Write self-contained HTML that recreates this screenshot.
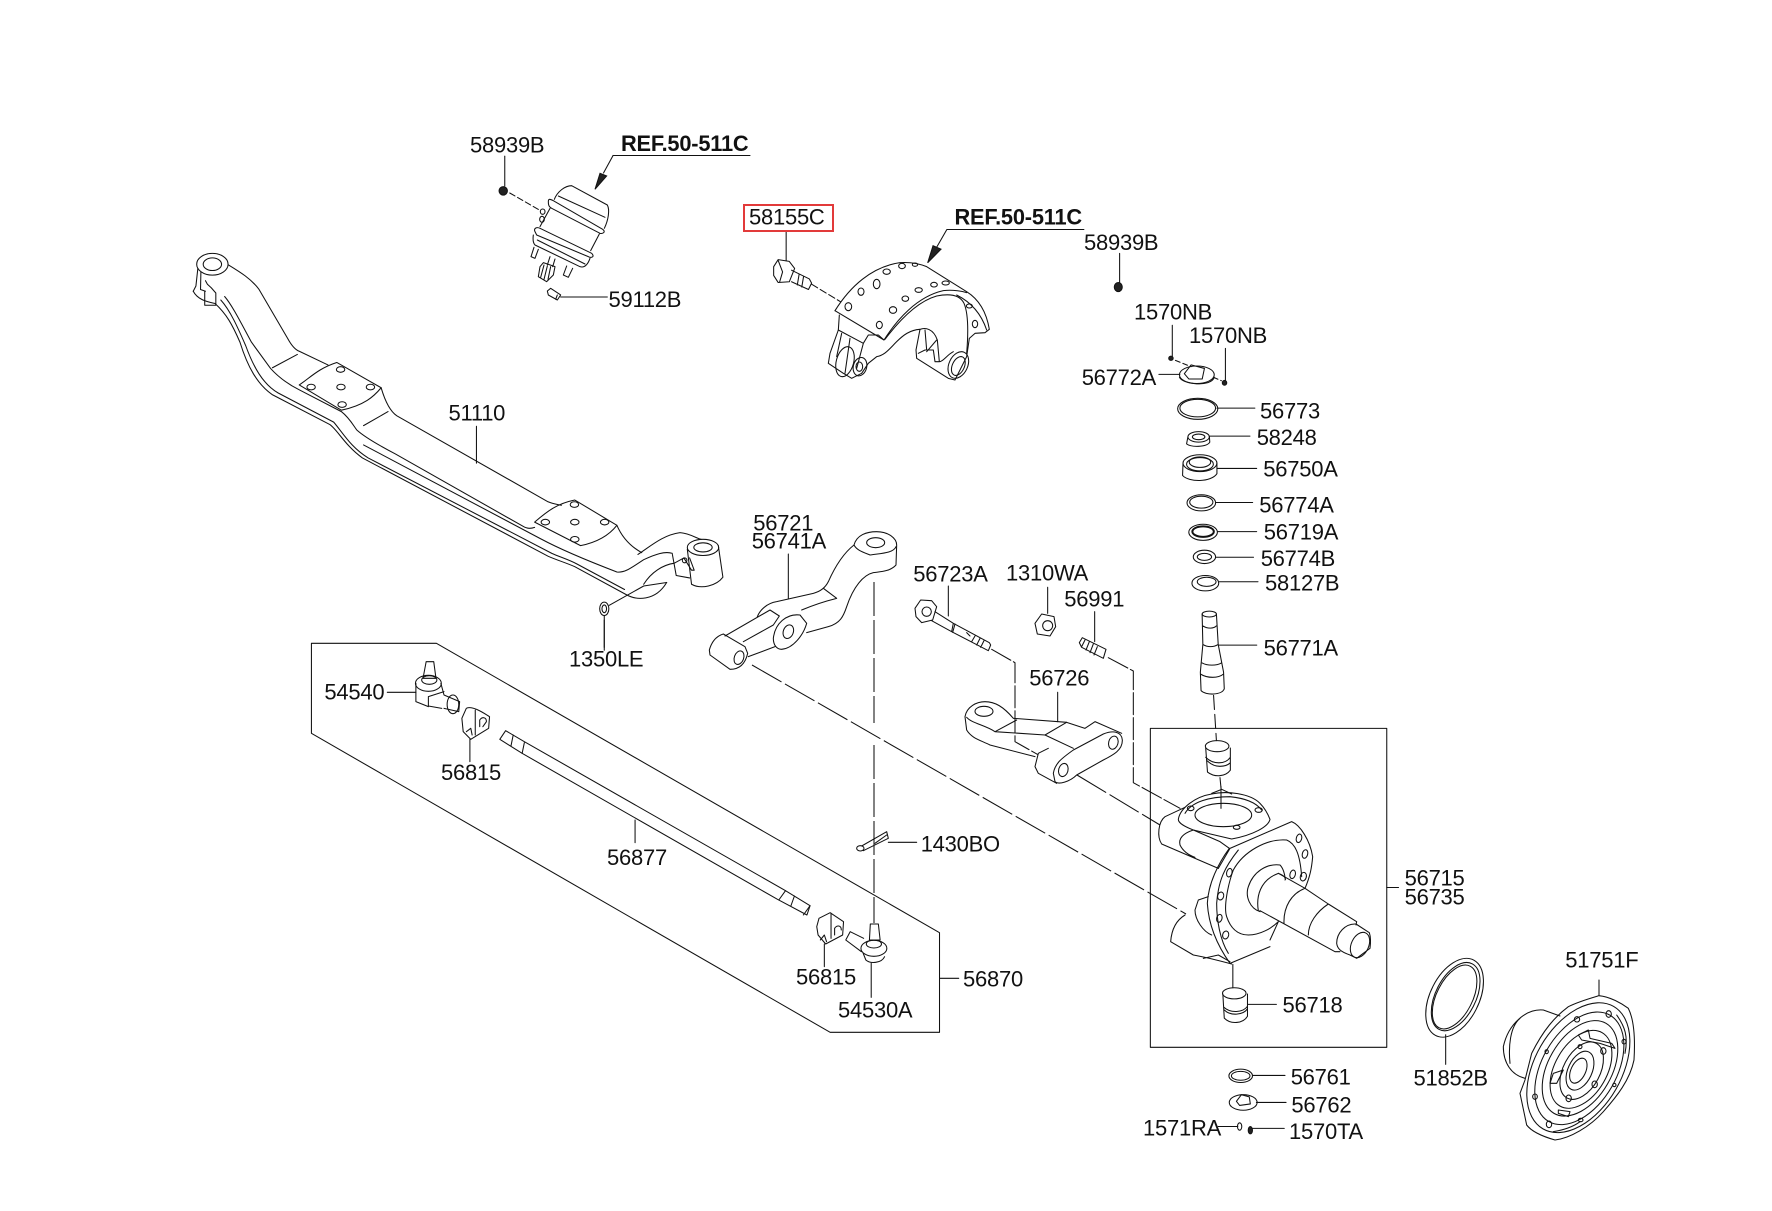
<!DOCTYPE html>
<html><head><meta charset="utf-8"><title>Front axle parts diagram</title>
<style>
html,body{margin:0;padding:0;background:#fff}
svg{display:block}
svg *{vector-effect:non-scaling-stroke}
.l{fill:none;stroke:#111;stroke-width:1.05;stroke-linejoin:round;stroke-linecap:round}
.d{fill:none;stroke:#111;stroke-width:1.05;stroke-dasharray:34 4}
.k{fill:#222;stroke:#111;stroke-width:1}
text{font-family:"Liberation Sans",sans-serif;font-size:22px;letter-spacing:-.25px;fill:#111}
.b{font-weight:bold;font-size:21.8px;letter-spacing:-.2px}
</style></head><body>
<svg width="1772" height="1211" viewBox="0 0 1772 1211" xmlns="http://www.w3.org/2000/svg">
<rect width="1772" height="1211" fill="#fff"/>

<!-- long dashed connectors -->
<path class="d" d="M874 582V723M874 745V923M752 665L1186 914M1077 775L1160 825"/>

<!-- axle -->
<g transform="translate(150,100) scale(.3827,.3509)">
 <path class="l" d="M205 470C235 490 265 510 285 540L360 680C370 700 380 712 390 716L465 755"/>
 <path class="l" d="M604 820C612 850 625 885 645 900L1040 1145C1055 1152 1065 1152 1075 1155M1220 1212C1235 1250 1260 1275 1285 1290"/>
 <path class="l" d="M390 812C420 790 440 765 488 748L604 820C585 845 560 870 500 884Z"/>
 <path class="l" d="M1005 1203C1040 1170 1065 1150 1110 1140L1220 1212C1200 1240 1170 1260 1125 1270Z"/>
 <g class="l">
  <ellipse cx="498" cy="768" rx="11" ry="8"/><ellipse cx="421" cy="818" rx="11" ry="8"/><ellipse cx="499" cy="818" rx="11" ry="8"/><ellipse cx="576" cy="818" rx="11" ry="8"/><ellipse cx="502" cy="868" rx="11" ry="8"/>
  <ellipse cx="1109" cy="1153" rx="11" ry="8"/><ellipse cx="1033" cy="1203" rx="11" ry="8"/><ellipse cx="1110" cy="1203" rx="11" ry="8"/><ellipse cx="1188" cy="1203" rx="11" ry="8"/><ellipse cx="1110" cy="1252" rx="11" ry="8"/>
  <ellipse cx="163" cy="468" rx="41" ry="31"/><ellipse cx="163" cy="468" rx="24" ry="18"/>
  <ellipse cx="1445" cy="1275" rx="41" ry="23"/><ellipse cx="1445" cy="1275" rx="24" ry="13"/>
 </g>
 <path class="l" d="M320 763L385 725M558 928L622 888M853 930V1035"/>
 <path class="l" d="M195 560C215 585 240 640 265 690L315 765C340 795 370 815 390 826L500 888C520 905 530 925 540 940C560 960 600 985 640 1008L975 1215C985 1222 995 1222 1005 1218"/>
 <path class="l" d="M558 983L1020 1250C1080 1285 1160 1320 1220 1345C1240 1348 1255 1335 1290 1310C1320 1295 1345 1285 1365 1292"/>
 <path class="l" d="M113 545C125 570 150 575 170 580C200 610 215 640 235 690C255 760 280 810 320 840L470 925C490 940 510 985 555 1020L1040 1300C1060 1310 1090 1320 1110 1330L1245 1410C1270 1425 1320 1430 1350 1375"/>
 <path class="l" d="M185 570C210 600 230 650 250 700C270 760 295 810 335 835L480 918C505 950 525 990 570 1020L1050 1292C1070 1302 1095 1310 1115 1322L1240 1395"/>
 <path class="l" d="M125 480L120 530L113 545M133 490L132 540L145 545M143 545V585H172V550L160 535L150 525L145 515"/>
 <path class="l" d="M1275 1295C1310 1270 1340 1240 1385 1233C1410 1235 1430 1250 1440 1252"/>
 <path class="l" d="M1404 1280L1415 1380C1440 1395 1480 1385 1497 1360L1485 1270M1365 1295L1375 1355L1410 1362M1290 1380C1310 1345 1340 1325 1370 1320L1395 1305L1415 1340H1422L1410 1305M1350 1375L1290 1385L1200 1440"/>
 <ellipse class="l" cx="1397" cy="1312" rx="6" ry="7"/>
 <ellipse class="l" cx="1187" cy="1450" rx="12" ry="19"/><ellipse class="l" cx="1187" cy="1450" rx="6" ry="11"/>
 <path class="l" d="M1187 1470V1568"/>
 <path class="l" d="M927 160V245"/>
 <ellipse class="k" cx="923" cy="259" rx="11" ry="12"/>
 <path class="l" stroke-dasharray="6 3" d="M940 265L1020 315"/>
 <path class="l" d="M1210 158L1185 208"/>
</g>
<path class="l" d="M613 155.5H750"/>

<!-- actuator -->
<g transform="translate(520,160) scale(.33333)">
 <path class="l" d="M103 118C112 95 135 77 155 77L262 135C270 150 265 180 253 205"/>
 <path class="l" d="M85 125C85 115 90 117 100 122L248 208C258 215 250 222 240 220L95 145C85 140 85 132 85 125Z"/>
 <path class="l" d="M115 108L255 172M90 145L60 200M238 222L212 272"/>
 <path class="l" d="M45 215C40 205 50 200 60 205L215 280C225 290 215 295 205 290L50 225ZM40 225C38 240 40 250 45 255L180 320C195 325 205 310 210 295M52 240L195 312"/>
 <path class="l" d="M42 262L33 290L45 295L55 268M140 318L130 345L145 352L158 325M90 290L82 315M105 297L98 320"/>
 <path class="l" d="M60 320L70 308L105 320L100 345L80 365L55 350ZM72 315L62 352M82 318L72 358M92 320L84 358"/>
 <ellipse class="l" cx="68" cy="155" rx="7" ry="8"/><ellipse class="l" cx="66" cy="178" rx="7" ry="9"/>
 <path class="l" d="M82 393L92 385L122 405L112 420L85 405ZM112 405L107 418M122 411H262"/>
 <path class="k" d="M225 88L240 40L260 48Z"/>
</g>

<!-- Z2: bolt, arrow, right column -->
<g transform="translate(700,100) scale(.4464,.3509)">
 <path class="l" d="M193 372V458"/>
 <path class="l" d="M165 475L175 455L200 460L212 480L200 518L175 520L165 500ZM175 457L185 490L178 520"/>
 <path class="l" d="M205 485L245 510L250 522L243 540L205 518M222 497L218 527M232 503L228 533"/>
 <path class="l" d="M250 525L315 575" stroke-dasharray="7 3"/>
 <path class="l" d="M860 369H553L530 420"/>
 <path class="k" d="M510 464L522 415L540 425Z"/>
 <path class="l" d="M940 437V522"/><ellipse class="k" cx="937" cy="533" rx="9" ry="13"/>
 <path class="l" d="M1058 642V730M1177 708V800M1028 782H1075"/>
 <ellipse class="k" cx="1055" cy="736" rx="5" ry="6"/><ellipse class="k" cx="1175" cy="806" rx="5" ry="7"/>
 <path class="l" stroke-dasharray="5 3" d="M1065 742L1100 760M1150 790L1168 800"/>
 <ellipse class="l" cx="1113" cy="783" rx="39" ry="25"/>
 <path class="l" d="M1074 790C1080 810 1145 820 1152 790M1085 780L1100 755L1130 765L1125 795L1095 795Z"/>
 <g class="l">
  <ellipse cx="1115" cy="880" rx="45" ry="30"/><ellipse cx="1115" cy="878" rx="40" ry="25"/>
  <ellipse cx="1117" cy="960" rx="24" ry="15"/><ellipse cx="1117" cy="960" rx="14" ry="8"/>
  <path d="M1093 960L1090 980C1100 990 1135 990 1142 975L1141 958M1158 878H1243M1143 958H1232M1158 1050H1247M1155 1147H1238M1160 1230H1247M1155 1303H1240M1163 1373H1250"/>
  <ellipse cx="1120" cy="1035" rx="38" ry="24"/><ellipse cx="1120" cy="1032" rx="24" ry="15"/><ellipse cx="1120" cy="1038" rx="30" ry="19"/>
  <path d="M1082 1035L1081 1070C1095 1090 1145 1090 1158 1065L1158 1035"/>
  <ellipse cx="1123" cy="1148" rx="32" ry="23"/><ellipse cx="1123" cy="1146" rx="26" ry="17"/>
  <ellipse cx="1127" cy="1232" rx="32" ry="23"/><ellipse cx="1127" cy="1230" rx="24" ry="15" stroke-width="2"/>
  <ellipse cx="1130" cy="1302" rx="25" ry="19"/><ellipse cx="1130" cy="1302" rx="16" ry="10"/>
  <ellipse cx="1132" cy="1377" rx="30" ry="22"/><ellipse cx="1135" cy="1373" rx="21" ry="13"/>
 </g>
</g>
<rect x="744" y="205" width="89" height="26" fill="none" stroke="#e23a3a" stroke-width="2"/>

<!-- brake shoe -->
<g transform="translate(810,250) scale(.33333)">
 <path class="l" d="M75 182C120 110 185 50 270 38C300 36 330 42 350 50L470 125C510 150 530 190 538 238L525 248L495 250L478 265L470 320L435 390L415 385L320 325L318 300L330 238C300 240 280 255 260 275C235 300 225 315 200 320L175 340L155 370L125 385L100 370L55 340L60 310L85 240L88 195"/>
 <path class="l" d="M75 182L222 270C260 210 320 140 400 122C430 118 460 125 470 128M225 268C265 215 320 155 380 138C420 130 450 135 462 160C475 190 475 250 470 310M440 135C470 150 510 180 530 240"/>
 <path class="l" d="M85 240L160 280L175 255L205 255L222 270M160 280L140 355M95 250L80 320M120 265L105 370"/>
 <path class="l" d="M345 240L350 300M330 238C345 232 370 235 382 270L388 335L375 335L370 300L345 300L325 310M388 335C400 335 410 315 430 305M380 270L350 305"/>
 <g class="l">
  <ellipse cx="115" cy="170" rx="10" ry="12"/><ellipse cx="153" cy="125" rx="9" ry="11"/><ellipse cx="200" cy="102" rx="10" ry="14"/><ellipse cx="230" cy="65" rx="11" ry="8"/><ellipse cx="276" cy="48" rx="10" ry="8"/><ellipse cx="315" cy="44" rx="8" ry="5"/><ellipse cx="208" cy="225" rx="9" ry="11"/><ellipse cx="249" cy="180" rx="11" ry="10"/><ellipse cx="286" cy="146" rx="10" ry="8"/><ellipse cx="326" cy="120" rx="11" ry="7"/><ellipse cx="372" cy="104" rx="10" ry="7"/><ellipse cx="407" cy="99" rx="11" ry="6"/><ellipse cx="478" cy="168" rx="9" ry="6"/><ellipse cx="495" cy="222" rx="8" ry="11"/>
  <ellipse cx="105" cy="335" rx="26" ry="46" transform="rotate(15 105 335)"/>
  <ellipse cx="150" cy="350" rx="20" ry="28" transform="rotate(15 150 350)"/><ellipse cx="148" cy="350" rx="10" ry="14"/>
  <ellipse cx="445" cy="345" rx="28" ry="42" transform="rotate(25 445 345)"/><ellipse cx="445" cy="348" rx="18" ry="30" transform="rotate(25 445 348)"/>
 </g>
</g>

<!-- arms -->
<g transform="translate(680,510) scale(.33333)">
 <path class="l" d="M325 132V265"/>
 <path class="l" d="M522 105C530 75 560 65 590 65C625 65 650 85 650 105L648 165C630 185 600 185 580 188C550 195 520 230 500 290C490 320 480 340 445 350L380 368"/>
 <ellipse class="l" cx="587" cy="98" rx="27" ry="15"/>
 <path class="l" d="M648 110C640 130 600 130 570 135C545 125 530 120 522 105C490 130 465 170 445 215C435 235 420 245 400 250L290 275C260 280 240 300 232 320M430 235L470 265M470 265C430 275 400 285 365 300"/>
 <path class="l" d="M280 385C285 340 320 310 360 315L380 340C370 375 340 415 305 418C290 418 280 405 280 385Z"/>
 <ellipse class="l" cx="325" cy="365" rx="15" ry="21" transform="rotate(20 325 365)"/>
 <path class="l" d="M280 345L298 318L270 300L135 378M205 440L285 410M190 395L280 345"/>
 <path class="l" d="M88 420C95 395 110 378 130 372L195 410L203 430C195 465 175 478 150 478L90 435Z"/>
 <ellipse class="l" cx="177" cy="443" rx="14" ry="21" transform="rotate(20 177 443)"/>
 <path class="l" d="M805 228V318"/>
 <path class="l" d="M705 295L722 270L755 272L770 290L758 330L725 338L708 320Z"/>
 <circle class="l" cx="740" cy="305" r="14"/>
 <path class="l" d="M765 305L820 340L928 398L932 405L925 422L815 365L755 332M820 340L815 365M860 368L870 378M885 378L875 395M900 385L890 405M912 392L902 412"/>
 <path class="l" stroke-width="2" d="M825 342L818 367"/>
 <path class="l" stroke-dasharray="22 3" d="M935 418L1005 458V695L1072 733"/>
 <path class="l" d="M1103 232V310"/>
 <path class="l" d="M1065 340L1085 312L1122 320L1127 350L1110 378L1072 372Z"/><circle class="l" cx="1103" cy="347" r="15"/>
 <path class="l" d="M1244 305V395M1198 398L1207 383L1278 418L1270 445L1205 412Z"/>
 <path class="l" d="M1215 390L1205 410M1228 395L1218 420M1240 402L1230 428M1252 410L1242 435"/>
 <path class="l" stroke-dasharray="22 3" d="M1285 443L1360 483V818L1500 895"/>
 <path class="l" d="M1133 547V635"/>
 <path class="l" d="M855 620C860 590 890 575 915 575C945 575 970 590 1000 625L1160 637L1215 655L1245 635L1325 670"/>
 <ellipse class="l" cx="912" cy="604" rx="27" ry="15"/>
 <path class="l" d="M855 620L860 660C875 685 900 690 930 705L1065 740M860 622C875 640 915 645 945 665L1095 675L1160 637M945 665L1010 630M1095 675L1180 715M1105 715L1075 730L1065 770L1075 790L1130 820"/>
 <path class="l" d="M1120 790C1125 760 1145 745 1180 720L1270 672C1300 660 1325 665 1327 690C1328 720 1300 735 1270 750L1190 795C1170 815 1135 825 1125 815Z"/>
 <ellipse class="l" cx="1150" cy="780" rx="14" ry="20" transform="rotate(15 1150 780)"/>
 <ellipse class="l" cx="1300" cy="698" rx="14" ry="20" transform="rotate(15 1300 698)"/>
 <ellipse class="l" cx="541" cy="1015" rx="11" ry="8"/>
 <path class="l" d="M545 1008L620 965L625 985L550 1022M585 1000L620 975M625 997H710"/>
</g>

<!-- tie rod -->
<g transform="translate(290,620) scale(.4464,.33333)">
 <path class="l" d="M48 70H328L1455 938V1237H1210L48 340ZM1455 1075H1498"/>
 <path class="l" d="M704 0V82"/>
 <path class="l" d="M218 217H282M305 125H322L327 175H298Z"/>
 <ellipse class="l" cx="310" cy="190" rx="29" ry="24"/><ellipse class="l" cx="312" cy="180" rx="17" ry="13"/>
 <path class="l" d="M282 190V245L310 260M338 190L345 225M310 230L345 215M310 230V258L340 265M345 225L380 245L378 275L345 265"/>
 <ellipse class="l" cx="365" cy="253" rx="13" ry="28"/>
 <path class="l" d="M395 265C410 255 440 285 447 290L445 325L405 358L388 335L385 295Z"/>
 <path class="l" d="M415 270V345M425 320V300C430 290 440 290 440 305L432 320M395 335L405 325L408 345"/>
 <path class="l" d="M403 358V425"/>
 <path class="l" d="M470 358L483 332L525 365L1110 812L1165 857L1158 885L1092 838L520 400Z"/>
 <path class="l" d="M500 345L495 378M525 368L520 400M1110 812L1095 840M1130 828L1122 858M1165 857L1150 885"/>
 <path class="l" d="M773 600V668"/>
 <path class="l" d="M1180 920L1185 895L1210 878L1240 905L1238 945L1200 972L1183 945Z"/>
 <path class="l" d="M1212 880V955M1220 945V925C1225 915 1235 915 1235 930M1188 960L1197 945L1202 965"/>
 <path class="l" d="M1197 972V1040"/>
 <path class="l" d="M1300 912H1318L1322 960H1298Z"/>
 <ellipse class="l" cx="1308" cy="985" rx="29" ry="24"/><ellipse class="l" cx="1308" cy="972" rx="17" ry="12"/>
 <path class="l" d="M1284 1000L1290 1020C1300 1032 1325 1030 1332 1010M1255 935L1245 960L1280 995M1255 935L1285 955"/>
 <path class="l" d="M1302 1030V1132"/>
</g>

<!-- Z4: box, pin, bushes, seal, small parts -->
<g transform="translate(1120,600) scale(.3571,.37)">
 <rect class="l" x="85" y="347" width="662" height="862"/>
 <path class="l" d="M747 777H780"/>
 <ellipse class="l" cx="250" cy="38" rx="20" ry="8"/>
 <path class="l" d="M230 38L232 120L225 195L227 245C240 258 285 258 292 240L290 195L275 120L270 38M232 70C245 78 262 78 270 70M232 120C245 128 262 128 275 120M230 170C245 178 270 178 284 170M225 200C245 212 275 212 290 200M275 122H383"/>
 <path class="l" stroke-dasharray="14 5" d="M262 258L270 380M280 480L283 510"/>
 <ellipse class="l" cx="272" cy="395" rx="33" ry="15"/>
 <path class="l" d="M240 400L245 465C265 480 295 478 309 460V400M240 425C260 445 295 445 309 425M245 435C265 455 295 452 309 440"/>
 <path class="l" d="M316 985V1048"/>
 <ellipse class="l" cx="320" cy="1063" rx="33" ry="15"/>
 <path class="l" d="M288 1065L292 1130C310 1148 345 1145 357 1125V1065M290 1100C310 1118 345 1115 357 1098M292 1108C310 1125 345 1122 357 1105M357 1093H438"/>
 <ellipse class="l" cx="937" cy="1075" rx="68" ry="115" transform="rotate(28 937 1075)"/>
 <ellipse class="l" cx="937" cy="1073" rx="50" ry="94" transform="rotate(28 937 1073)"/>
 <ellipse class="l" cx="940" cy="1072" rx="56" ry="100" transform="rotate(28 940 1072)"/>
 <path class="l" d="M912 1175V1255"/>
 <ellipse class="l" cx="338" cy="1286" rx="33" ry="18"/><ellipse class="l" cx="338" cy="1286" rx="26" ry="12"/>
 <path class="l" d="M372 1285H462"/>
 <ellipse class="l" cx="345" cy="1358" rx="39" ry="21"/>
 <path class="l" d="M326 1355L340 1337L362 1343L365 1362L335 1366ZM382 1358H465"/>
 <path class="l" d="M275 1423H330M372 1428H460"/>
 <ellipse class="l" cx="335" cy="1423" rx="6" ry="10"/>
 <ellipse class="k" cx="365" cy="1433" rx="6" ry="10"/>
</g>

<!-- knuckle -->
<g transform="translate(1150,780) scale(.33333)">
 <path class="l" d="M85 118C90 85 135 50 185 42C230 32 300 40 330 70C345 85 355 105 360 118C355 140 310 165 245 177L130 150C105 140 85 130 85 118Z"/>
 <ellipse class="l" cx="220" cy="105" rx="85" ry="35"/>
 <path class="l" d="M105 100C125 65 180 50 240 50C290 55 320 70 335 90M213 20V85M185 40L215 28L245 42"/>
 <ellipse class="l" cx="122" cy="85" rx="10" ry="7"/><ellipse class="l" cx="326" cy="90" rx="11" ry="7"/><ellipse class="l" cx="260" cy="142" rx="10" ry="6"/>
 <path class="l" d="M105 82L45 110C25 125 20 170 35 192L205 265M130 150C100 160 85 175 90 195C100 215 115 225 135 232M130 150L210 185L238 205"/>
 <path class="l" d="M205 265L240 205L425 125C450 135 480 180 488 230C485 265 480 290 465 325M238 205C205 250 175 310 172 370C175 420 190 480 240 550L360 500M265 210C225 260 205 300 200 370C200 420 210 480 235 520"/>
 <path class="l" d="M250 270C235 310 220 380 230 410C240 440 260 465 295 465C330 465 365 445 385 425M250 270C280 215 350 175 410 180C435 190 450 220 455 290M360 480L385 425"/>
 <path class="l" d="M105 405C80 420 65 445 62 485L130 525C160 530 200 540 245 552M135 390L145 360L175 350M135 390C135 420 160 455 185 465M160 535L205 525L240 545"/>
 <path class="l" d="M330 395C300 385 285 350 295 320C310 275 350 250 390 255C400 265 405 285 405 295M325 392C318 350 330 300 385 280C400 285 410 295 405 300"/>
 <path class="l" d="M385 280L465 325L535 372L620 425L618 435M330 392L555 515L570 515M465 325C425 340 400 380 402 430M535 372C500 395 475 430 475 465"/>
 <path class="l" d="M618 432C585 430 560 460 560 490C562 505 570 515 600 525L620 535L660 505C662 490 662 470 658 458L618 432Z"/>
 <ellipse class="l" cx="630" cy="495" rx="26" ry="40" transform="rotate(25 630 495)"/>
 <g class="l">
  <ellipse cx="447" cy="175" rx="8" ry="13" transform="rotate(15 447 175)"/><ellipse cx="465" cy="222" rx="8" ry="13" transform="rotate(15 465 222)"/><ellipse cx="428" cy="283" rx="8" ry="13" transform="rotate(15 428 283)"/><ellipse cx="460" cy="290" rx="9" ry="13" transform="rotate(15 460 290)"/><ellipse cx="238" cy="278" rx="8" ry="13" transform="rotate(15 238 278)"/><ellipse cx="212" cy="348" rx="9" ry="12" transform="rotate(15 212 348)"/><ellipse cx="208" cy="415" rx="8" ry="12" transform="rotate(15 208 415)"/><ellipse cx="227" cy="465" rx="9" ry="12" transform="rotate(15 227 465)"/>
 </g>
</g>

<!-- hub -->
<g transform="translate(1500,980) scale(.33333)">
 <path class="l" d="M297 0V47C330 50 365 70 385 85C405 125 405 190 402 240C390 300 350 350 310 395C270 440 210 475 165 480C130 470 95 455 80 435L60 340L75 300L95 220C130 150 165 110 205 80C235 65 270 55 297 47"/>
 <path class="l" d="M180 108L130 90C80 85 25 130 10 200C10 250 35 285 75 295M60 115C30 140 25 200 30 250"/>
 <g class="l">
  <ellipse cx="235" cy="263" rx="130" ry="212" transform="rotate(30 235 263)"/>
  <ellipse cx="238" cy="265" rx="112" ry="184" transform="rotate(30 238 265)"/>
  <ellipse cx="240" cy="265" rx="95" ry="156" transform="rotate(30 240 265)"/>
  <ellipse cx="243" cy="268" rx="78" ry="127" transform="rotate(30 243 268)"/>
  <ellipse cx="245" cy="272" rx="55" ry="93" transform="rotate(28 245 272)"/>
  <ellipse cx="240" cy="272" rx="36" ry="62" transform="rotate(25 240 272)"/>
  <ellipse cx="235" cy="272" rx="22" ry="40" transform="rotate(25 235 272)"/>
  <ellipse cx="326" cy="102" rx="8" ry="10"/><ellipse cx="231" cy="118" rx="8" ry="8"/><ellipse cx="372" cy="185" rx="6" ry="7"/><ellipse cx="140" cy="215" rx="5" ry="6"/><ellipse cx="105" cy="350" rx="7" ry="8"/><ellipse cx="147" cy="433" rx="8" ry="10"/><ellipse cx="242" cy="420" rx="7" ry="5"/><ellipse cx="343" cy="315" rx="5" ry="5"/><ellipse cx="310" cy="213" rx="8" ry="10"/><ellipse cx="284" cy="313" rx="8" ry="10"/><ellipse cx="206" cy="355" rx="8" ry="10"/><ellipse cx="240" cy="200" rx="6" ry="6"/>
  <path d="M235 165L265 150L270 175L335 190L345 205L300 190L245 180ZM160 280L190 270L170 310L150 310ZM175 390L210 395L205 410L175 400Z"/>
 </g>
 <path class="l" stroke-width="2" d="M350 105C375 140 385 170 375 220M160 455C190 450 220 440 240 425"/>
</g>

<!-- labels -->
<text x="470" y="152.6">58939B</text>
<text class="b" x="621" y="151.2">REF.50-511C</text>
<text x="608.5" y="307">59112B</text>
<text x="448.5" y="420.4">51110</text>
<text x="569" y="666.7">1350LE</text>
<text x="324.4" y="699.3">54540</text>
<text x="441" y="780">56815</text>
<text x="607" y="865">56877</text>
<text x="796" y="984.3">56815</text>
<text x="838" y="1017.7">54530A</text>
<text x="963" y="986.7">56870</text>
<text x="920.7" y="851.7">1430BO</text>
<text x="753.3" y="530.7">56721</text>
<text x="751.7" y="548.3">56741A</text>
<text x="913.3" y="581.7">56723A</text>
<text x="1006" y="580.7">1310WA</text>
<text x="1064.3" y="606.7">56991</text>
<text x="1029.3" y="685.7">56726</text>
<text x="749" y="224.6">58155C</text>
<text class="b" x="954.5" y="224.6">REF.50-511C</text>
<text x="1084" y="250.2">58939B</text>
<text x="1134" y="319.3">1570NB</text>
<text x="1189" y="343.2">1570NB</text>
<text x="1081.7" y="385">56772A</text>
<text x="1260" y="418.6">56773</text>
<text x="1256.7" y="445">58248</text>
<text x="1263.3" y="476.5">56750A</text>
<text x="1259.3" y="512.7">56774A</text>
<text x="1263.8" y="539.7">56719A</text>
<text x="1260.7" y="566">56774B</text>
<text x="1265" y="590.6">58127B</text>
<text x="1263.6" y="655.5">56771A</text>
<text x="1404.6" y="885.6">56715</text>
<text x="1404.6" y="904.5">56735</text>
<text x="1282.5" y="1012.6">56718</text>
<text x="1565.3" y="967.4">51751F</text>
<text x="1413.5" y="1085.4">51852B</text>
<text x="1290.7" y="1084.7">56761</text>
<text x="1291.4" y="1112.5">56762</text>
<text x="1143" y="1135.4">1571RA</text>
<text x="1289" y="1139">1570TA</text>
</svg>
</body></html>
